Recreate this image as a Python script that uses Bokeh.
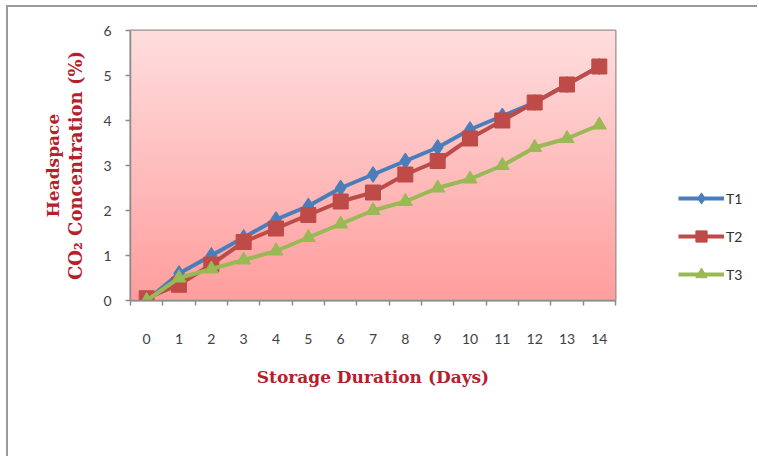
import numpy as np
from bokeh.plotting import figure
from bokeh.layouts import row
from bokeh.models import FixedTicker, Title, Legend, LegendItem, Range1d
from bokeh.embed import file_html
from bokeh.resources import INLINE

days = list(range(15))
day_labels = [str(d) for d in days]
t1 = [0.0, 0.6, 1.0, 1.4, 1.8, 2.1, 2.5, 2.8, 3.1, 3.4, 3.8, 4.1, 4.4, 4.8, 5.2]
t2 = [0.05, 0.35, 0.8, 1.3, 1.6, 1.9, 2.2, 2.4, 2.8, 3.1, 3.6, 4.0, 4.4, 4.8, 5.2]
t3 = [0.0, 0.5, 0.7, 0.9, 1.1, 1.4, 1.7, 2.0, 2.2, 2.5, 2.7, 3.0, 3.4, 3.6, 3.9]
series_names = ["T1", "T2", "T3"]
y_ticks = [0, 1, 2, 3, 4, 5, 6]

TITLE_COLOR = "#B5202A"
SERIF = "DejaVu Serif"
SANS = "Lato"
H = 451

p = figure(width=617, height=H, output_backend="svg", toolbar_location=None,
           x_range=Range1d(-0.5, 14.5), y_range=Range1d(0, 6),
           min_border_left=122, min_border_top=23, min_border_right=10, min_border_bottom=158)
p.styles = {"border-top": "2px solid #9a9a9a", "border-left": "2px solid #9a9a9a"}

# gradient plot background
n = 200
top = np.array([255, 222, 222], dtype=float)
bot = np.array([255, 158, 158], dtype=float)
img = np.empty((n, 1), dtype=np.uint32)
view = img.view(dtype=np.uint8).reshape((n, 1, 4))
for i in range(n):
    t = i / (n - 1)
    c = bot * (1 - t) + top * t
    view[i, 0, 0] = int(c[0]); view[i, 0, 1] = int(c[1]); view[i, 0, 2] = int(c[2]); view[i, 0, 3] = 255
p.image_rgba(image=[img], x=-0.5, y=0, dw=15, dh=6)

p.grid.visible = False
p.outline_line_color = "#9a8f8f"
p.outline_line_width = 2

# x axis
p.xaxis.ticker = FixedTicker(ticks=days, minor_ticks=[d - 0.5 for d in days] + [14.5])
p.xaxis.major_label_overrides = {d: l for d, l in zip(days, day_labels)}
p.xaxis.major_tick_line_color = None
p.xaxis.major_tick_out = 0
p.xaxis.major_tick_in = 0
p.xaxis.minor_tick_out = 5
p.xaxis.minor_tick_in = 0
p.xaxis.minor_tick_line_color = "#8c8c8c"
p.xaxis.minor_tick_line_width = 1.5
p.xaxis.major_label_standoff = 28
p.xaxis.axis_label = "Storage Duration (Days)"
p.xaxis.axis_label_standoff = 20
p.xaxis.axis_label_text_font_size = "17px"

# y axis
p.yaxis.ticker = FixedTicker(ticks=y_ticks, minor_ticks=[])
p.yaxis.major_tick_out = 5
p.yaxis.major_tick_in = 0
p.yaxis.major_tick_line_color = "#8c8c8c"
p.yaxis.major_tick_line_width = 1.5
p.yaxis.major_label_standoff = 14
p.yaxis.axis_label = "CO\u2082 Concentration (%)"
p.yaxis.axis_label_standoff = 14
p.yaxis.axis_label_text_font_size = "18px"

for ax in (p.xaxis, p.yaxis):
    ax.axis_line_color = "#8c8c8c"
    ax.axis_line_width = 1.5
    ax.major_label_text_font = SANS
    ax.major_label_text_font_size = "14px"
    ax.major_label_text_color = "#404040"
    ax.axis_label_text_font = SERIF
    ax.axis_label_text_font_style = "bold"
    ax.axis_label_text_color = TITLE_COLOR

p.add_layout(Title(text="Headspace", align="center", text_font=SERIF, text_font_style="bold",
                   text_font_size="17px", text_color=TITLE_COLOR, standoff=0), "left")

styles = [
    ("#4A7EBB", "diamond", 16),
    ("#BE4B48", "square", 15),
    ("#98B954", "triangle", 14),
]
for vals, (col, mk, sz) in zip([t1, t2, t3], styles):
    p.line(days, vals, line_color=col, line_width=4)
    p.scatter(days, vals, marker=mk, size=sz, fill_color=col, line_color=col)

# legend panel to the right of the plot area (its frame is aligned with the plot's)
p2 = figure(width=134, height=H, output_backend="svg", toolbar_location=None,
            x_range=Range1d(100, 101), y_range=Range1d(100, 101),
            x_axis_location=None, y_axis_location=None, min_border=0)
p2.styles = {"border-top": "2px solid #9a9a9a"}
p2.grid.visible = False
p2.outline_line_color = None
items = []
for name, vals, (col, mk, sz) in zip(series_names, [t1, t2, t3], styles):
    ln = p2.line(days, vals, line_color=col, line_width=4)
    sc = p2.scatter(days, vals, marker=mk, size=sz - 1, fill_color=col, line_color=col)
    items.append(LegendItem(label=name, renderers=[ln, sc]))
legend = Legend(items=items, location=(55, 12), orientation="vertical",
                glyph_width=46, glyph_height=28, spacing=10, label_standoff=2,
                label_text_font=SANS, label_text_font_size="14px", label_text_color="#303030",
                border_line_color=None, background_fill_alpha=0, padding=0, margin=0)
p2.add_layout(legend, "center")

layout = row(p, p2, spacing=0)
layout.margin = (5, 0, 0, 6)
open("out.html", "w").write(file_html(layout, INLINE))
